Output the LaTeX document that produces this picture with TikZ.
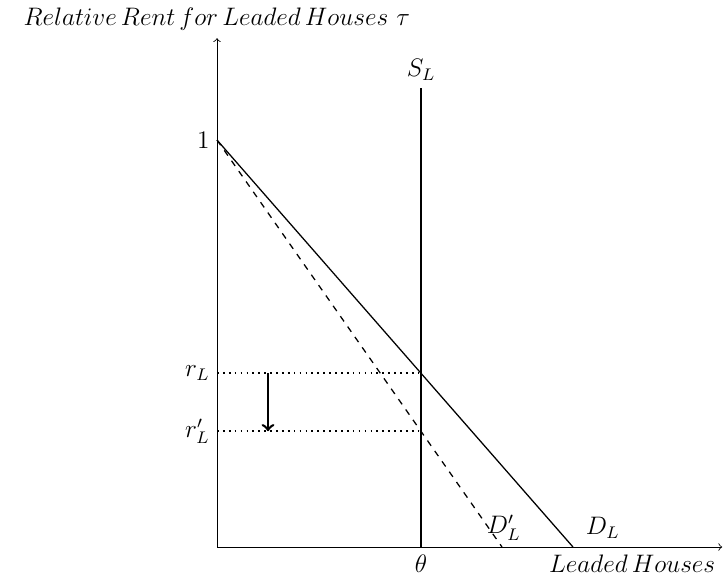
\documentclass[tikz,border=0pt]{standalone}
\usetikzlibrary{positioning}
\begin{document}
\begin{tikzpicture}[
    every node/.style={font=\large},
    axis/.style={->},
    curve/.style={semithick},
    level/.style={dotted, thick},
    drop/.style={->, very thick}
]
\useasboundingbox (-3.617,-0.567) rectangle (8.45,9.117);

% Axes
\coordinate (O) at (0,0);
\draw[axis] (O) -- (0,8.48) coordinate (ytop);
\draw[axis] (O) -- (8.42,0) coordinate (xend);
\node[above] (ylab) at (ytop) {$Relative\, Rent\, for\, Leaded\, Houses\ \tau$};
\node[below] (xlab) at (6.92,0) {$Leaded\, Houses$};

% Demand curves
\coordinate (one) at (0,6.783);
\coordinate (dend) at (5.933,0);
\coordinate (dpend) at (4.75,0);
\node[left] (onelab) at (one) {$1$};
\draw[curve] (one) -- (dend);
\draw[curve, dashed] (one) -- (dpend);
\node (dlab) at (6.43,0.32) {$D_L$};
\node (dplab) at (4.78,0.32) {$D'_L$};

% Supply
\coordinate (theta) at (3.4,0);
\draw[curve] (theta) -- (3.4,7.65) coordinate (stop);
\node[above] (slab) at (stop) {$S_L$};
\node[below] (thetalab) at (theta) {$\theta$};

% Rents
\coordinate (r) at (0,2.9);
\coordinate (rp) at (0,1.93);
\draw[level] (r) -- (r -| theta);
\draw[level] (rp) -- (rp -| theta);
\node[left] (rlab) at (r) {$r_L$};
\node[left] (rplab) at (rp) {$r'_L$};
\draw[drop] ([xshift=0.85cm]r) -- ([xshift=0.85cm]rp);
\end{tikzpicture}
\end{document}
